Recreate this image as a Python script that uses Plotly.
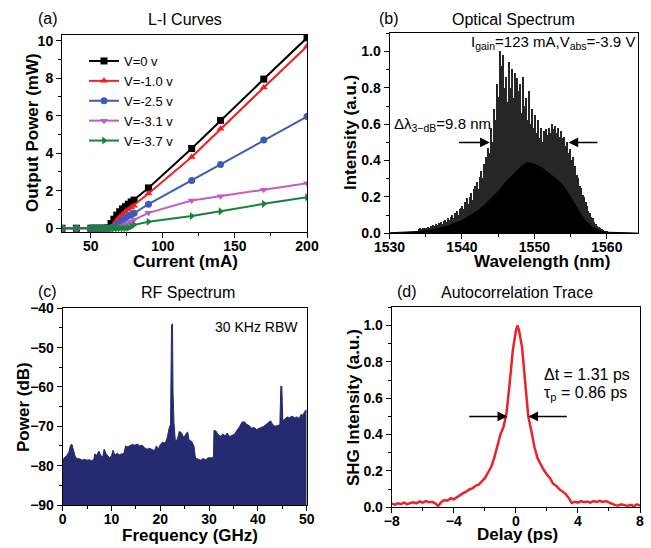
import numpy as np
import plotly.graph_objects as go

# ---------------- (a) L-I curves ----------------
li_current = [30, 40, 50, 52, 54, 56, 58, 60, 62, 64, 66, 68, 70, 72, 74, 76, 78, 80, 90, 120, 140, 170, 200]
li_v0 = [0, 0, 0, 0, 0, 0, 0, 0, 0.02, 0.25, 0.48, 0.70, 0.88, 1.03, 1.15, 1.28, 1.40, 1.50, 2.15, 4.25, 5.75, 7.95, 10.15]
li_v10 = [0, 0, 0, 0, 0, 0, 0, 0, 0, 0.05, 0.22, 0.42, 0.60, 0.75, 0.88, 1.00, 1.10, 1.20, 1.85, 3.80, 5.30, 7.50, 9.70]
li_v25 = [0, 0, 0, 0, 0, 0, 0, 0, 0, 0, 0.05, 0.15, 0.30, 0.43, 0.55, 0.65, 0.72, 0.80, 1.28, 2.55, 3.40, 4.70, 5.95]
li_v31 = [0, 0, 0, 0, 0, 0, 0, 0, 0, 0, 0, 0, 0.05, 0.12, 0.20, 0.28, 0.36, 0.45, 0.82, 1.48, 1.70, 2.05, 2.40]
li_v37 = [0, 0, 0, 0, 0, 0, 0, 0, 0, 0, 0, 0, 0, 0, 0, 0.02, 0.10, 0.18, 0.35, 0.65, 0.90, 1.30, 1.65]
li_names = ["V=0 v", "V=-1.0 v", "V=-2.5 v", "V=-3.1 v", "V=-3.7 v"]

# ---------------- (b) optical spectrum ----------------
comb_start, comb_end = 1534.0, 1560.0
comb_peaks = [
    0.02, 0.025, 0.02, 0.03, 0.025, 0.03, 0.035, 0.03, 0.04, 0.035,
    0.045, 0.04, 0.05, 0.045, 0.055, 0.06, 0.05, 0.065, 0.07, 0.06,
    0.08, 0.07, 0.09, 0.10, 0.085, 0.11, 0.12, 0.10, 0.13, 0.14,
    0.15, 0.13, 0.17, 0.19, 0.16, 0.20, 0.22, 0.18, 0.24, 0.26,
    0.28, 0.24, 0.31, 0.34, 0.30, 0.38, 0.42, 0.36, 0.47, 0.44,
    0.58, 0.50, 0.68, 0.62, 0.82, 0.75, 1.00, 0.92, 0.98, 0.80,
    0.86, 0.72, 0.94, 0.80, 0.90, 0.74, 0.88, 0.70, 0.85, 0.78,
    0.82, 0.66, 0.86, 0.70, 0.74, 0.62, 0.78, 0.60, 0.68, 0.58,
    0.65, 0.55, 0.62, 0.52, 0.58, 0.50, 0.56, 0.52, 0.57, 0.54,
    0.58, 0.55, 0.60, 0.57, 0.59, 0.55, 0.58, 0.53, 0.56, 0.52,
    0.53, 0.48, 0.50, 0.44, 0.46, 0.40, 0.42, 0.36, 0.37, 0.32,
    0.30, 0.26, 0.25, 0.21, 0.20, 0.17, 0.15, 0.12, 0.11, 0.09,
    0.08, 0.06, 0.05, 0.04, 0.035, 0.025, 0.02, 0.015, 0.012, 0.01, 0.008,
]
hump_wl = [1530, 1534, 1536, 1538, 1540, 1542, 1543, 1544, 1545, 1546, 1547, 1548, 1549,
           1550, 1551, 1552, 1553, 1554, 1555, 1556, 1557, 1558, 1559, 1560, 1562, 1564.3]
hump_val = [0.003, 0.01, 0.02, 0.04, 0.07, 0.12, 0.15, 0.19, 0.23, 0.28, 0.32, 0.36, 0.39,
            0.38, 0.36, 0.33, 0.30, 0.26, 0.20, 0.13, 0.07, 0.035, 0.015, 0.006, 0.002, 0.001]

# ---------------- (c) RF spectrum ----------------
rf_freq = [0.0, 0.3, 0.8, 1.3, 1.6, 1.9, 2.2, 2.6, 3.0, 3.5, 4.0, 4.5, 5.0, 5.5, 6.0, 6.4, 6.6, 7.0, 7.4, 7.8,
           8.2, 8.5, 8.9, 9.3, 9.6, 10.0, 10.3, 10.7, 11.2, 11.6, 12.0, 12.5, 12.9, 13.3, 13.8, 14.3, 14.8,
           15.3, 15.8, 16.3, 16.8, 17.3, 17.8, 18.3, 18.8, 19.2, 19.6, 20.0, 20.5, 21.0, 21.4, 21.8, 22.1,
           22.3, 22.5, 22.6, 22.8, 23.1, 23.5, 23.9, 24.3, 24.8, 25.3, 25.6, 25.9, 26.4, 26.9, 27.2, 27.8,
           28.3, 28.8, 29.3, 29.8, 30.5, 30.9, 31.0, 31.4, 31.8, 32.3, 32.8, 33.3, 33.7, 34.2, 34.7, 35.2,
           35.7, 36.2, 36.7, 37.2, 37.7, 38.2, 38.7, 39.2, 39.7, 40.2, 40.7, 41.2, 41.7, 42.2, 42.6, 43.0,
           43.5, 44.0, 44.5, 44.7, 44.9, 45.1, 45.5, 46.0, 46.5, 47.0, 47.5, 48.0, 48.5, 48.8, 49.2, 49.6, 50.0]
rf_power = [-78.8, -78.0, -77.5, -76.5, -74.8, -74.6, -76.0, -77.8, -78.2, -78.3, -78.6, -78.4, -78.6, -78.5,
            -78.8, -78.2, -77.0, -77.4, -76.3, -77.4, -77.8, -75.8, -77.0, -77.5, -78.0, -77.5, -76.1, -77.3,
            -76.8, -77.3, -77.0, -77.0, -75.0, -75.2, -75.0, -74.6, -74.8, -74.5, -75.0, -74.8, -75.5, -75.8,
            -75.6, -76.0, -76.2, -75.0, -75.8, -74.6, -74.0, -74.3, -73.0, -70.5, -69.5, -44.2, -44.0, -61.0,
            -69.0, -74.0, -73.2, -71.3, -71.6, -72.8, -72.0, -71.4, -73.5, -73.8, -75.0, -78.0, -78.4, -78.6,
            -78.2, -78.5, -78.0, -78.0, -77.8, -71.0, -71.2, -72.0, -72.5, -72.0, -72.4, -71.7, -72.6, -72.3,
            -72.0, -71.0, -70.2, -69.0, -68.8, -69.5, -69.8, -70.5, -70.3, -70.8, -70.5, -70.4, -70.0, -69.5,
            -69.0, -68.6, -69.5, -70.0, -69.8, -69.6, -59.8, -59.8, -68.5, -68.2, -67.6, -67.8, -67.4, -67.8,
            -67.6, -68.0, -67.0, -67.2, -66.2, -65.8]
rf_floor = -90

# ---------------- (d) autocorrelation ----------------
ac_delay = [-8.0, -7.8, -7.6, -7.4, -7.2, -7.0, -6.8, -6.6, -6.4, -6.2, -6.0, -5.8, -5.6, -5.4, -5.2, -5.0,
            -4.8, -4.6, -4.4, -4.2, -4.0, -3.8, -3.6, -3.4, -3.2, -3.0, -2.8, -2.6, -2.4, -2.2, -2.0, -1.8,
            -1.6, -1.4, -1.2, -1.0, -0.8, -0.6, -0.4, -0.2, 0.0, 0.1, 0.2, 0.4, 0.6, 0.8, 1.0, 1.2, 1.4, 1.6,
            1.8, 2.0, 2.2, 2.4, 2.6, 2.8, 3.0, 3.2, 3.4, 3.6, 3.8, 4.0, 4.2, 4.4, 4.6, 4.8, 5.0, 5.2, 5.4,
            5.6, 5.8, 6.0, 6.2, 6.4, 6.6, 6.8, 7.0, 7.2, 7.4, 7.6, 7.8, 8.0]
ac_shg = [0.020, 0.014, 0.022, 0.018, 0.026, 0.016, 0.024, 0.028, 0.022, 0.032, 0.026, 0.034, 0.028, 0.030,
          0.022, 0.008, 0.030, 0.040, 0.036, 0.050, 0.044, 0.056, 0.064, 0.078, 0.086, 0.098, 0.104, 0.118,
          0.124, 0.140, 0.160, 0.190, 0.220, 0.270, 0.330, 0.400, 0.440, 0.520, 0.680, 0.860, 0.970, 1.000,
          0.975, 0.880, 0.690, 0.500, 0.420, 0.330, 0.270, 0.235, 0.205, 0.180, 0.160, 0.130, 0.118, 0.100,
          0.088, 0.074, 0.052, 0.024, 0.030, 0.026, 0.034, 0.028, 0.032, 0.026, 0.034, 0.030, 0.036, 0.030,
          0.034, 0.026, 0.020, 0.012, 0.010, 0.016, 0.012, 0.008, 0.014, 0.006, 0.016, 0.010]

FONT = "Liberation Sans, Arial, sans-serif"
W, H = 651, 548

fig = go.Figure()

# (a)
colors_a = ["#000000", "#ee2222", "#3d5cb8", "#c35bc3", "#15843a"]
symbols_a = ["square", "triangle-up", "circle", "triangle-down", "triangle-right"]
for name, vals, c, s in zip(li_names, [li_v0, li_v10, li_v25, li_v31, li_v37], colors_a, symbols_a):
    fig.add_trace(go.Scatter(x=li_current, y=vals, mode="lines+markers", name=name,
                             line=dict(color=c, width=2), marker=dict(symbol=s, size=7, color=c),
                             xaxis="x", yaxis="y"))

# (b)
comb_wl = np.linspace(comb_start, comb_end, len(comb_peaks))
fig.add_trace(go.Bar(x=comb_wl, y=comb_peaks, width=0.15, marker=dict(color="#262626", line=dict(width=0)),
                     showlegend=False, xaxis="x2", yaxis="y2"))
fig.add_trace(go.Scatter(x=hump_wl, y=hump_val, mode="lines", fill="tozeroy", fillcolor="#000000",
                         line=dict(color="#000000", width=1), showlegend=False, xaxis="x2", yaxis="y2"))

# (c)
fig.add_trace(go.Scatter(x=[rf_freq[0], rf_freq[-1]], y=[rf_floor, rf_floor], mode="lines",
                         line=dict(width=0, color="#262a70"), showlegend=False, xaxis="x3", yaxis="y3"))
fig.add_trace(go.Scatter(x=rf_freq, y=rf_power, mode="lines", fill="tonexty", fillcolor="#262a70",
                         line=dict(color="#262a70", width=1), showlegend=False, xaxis="x3", yaxis="y3"))

# (d)
fig.add_trace(go.Scatter(x=ac_delay, y=ac_shg, mode="lines", line=dict(color="#e8232a", width=2.5),
                         showlegend=False, xaxis="x4", yaxis="y4"))


def px_dom_x(a, b):
    return [a / W, b / W]


def px_dom_y(top, bottom):
    return [1 - bottom / H, 1 - top / H]


def axis(domain, rng, dtick, tick0, minor, anchor, fmt=None, is_x=False):
    d = dict(domain=domain, range=rng, dtick=dtick, tick0=tick0, anchor=anchor, automargin=False,
             showline=True, mirror=True, linecolor="black", linewidth=1,
             ticks="outside", ticklen=5, tickwidth=1, tickcolor="black",
             minor=dict(dtick=minor, tick0=tick0, ticks="outside", ticklen=3, tickcolor="black"),
             showgrid=False, zeroline=False,
             tickfont=dict(family=FONT, size=14, color="black", weight="bold"))
    if is_x:
        d["ticklabelstandoff"] = -4
    if fmt:
        d["tickformat"] = fmt
    return d


layout = dict(
    width=W, height=H, margin=dict(l=0, r=0, t=0, b=0, pad=0, autoexpand=False),
    paper_bgcolor="white", plot_bgcolor="white", showlegend=True,
    legend=dict(x=84 / W, y=1 - 46 / H, xanchor="left", yanchor="top", bgcolor="rgba(0,0,0,0)",
                traceorder="normal", font=dict(family=FONT, size=13, color="black")),
    xaxis=axis(px_dom_x(62, 307), [30, 200], 50, 0, 25, "y", is_x=True),
    yaxis=axis(px_dom_y(35, 232), [-0.2, 10.3], 2, 0, 1, "x"),
    xaxis2=axis(px_dom_x(389.5, 638), [1530, 1564.3], 10, 1530, 5, "y2", is_x=True),
    yaxis2=axis(px_dom_y(33.3, 233.3), [0, 1.1], 0.2, 0, 0.1, "x2", ".1f"),
    xaxis3=axis(px_dom_x(62.7, 306.7), [0, 50], 10, 0, 5, "y3", is_x=True),
    yaxis3=axis(px_dom_y(308.3, 505), [-90, -40], 10, -90, 5, "x3"),
    xaxis4=axis(px_dom_x(391.7, 640), [-8, 8], 4, 0, 2, "y4", is_x=True),
    yaxis4=axis(px_dom_y(307.3, 507.3), [0, 1.1], 0.2, 0, 0.1, "x4", ".1f"),
)
fig.update_layout(**layout)

ann = []
tf = dict(family=FONT, size=16, color="black")
for txt, xp, yp in [("(a)", 48, 19), ("L-I Curves", 184.5, 20), ("(b)", 389, 19), ("Optical Spectrum", 513.5, 20),
                    ("(c)", 47, 291), ("RF Spectrum", 188, 292), ("(d)", 407, 291), ("Autocorrelation Trace", 517, 292)]:
    ann.append(dict(text=txt, x=xp / W, y=1 - yp / H, xref="paper", yref="paper", showarrow=False,
                    xanchor="center", yanchor="middle", font=tf))

# axis titles
ttf = dict(family=FONT, size=17, color="black", weight="bold")
for txt, xp, yp, ang in [("Current (mA)", 185, 261, 0), ("Output Power (mW)", 32, 133, -90),
                         ("Wavelength (nm)", 542, 261, 0), ("Intensity (a.u.)", 350, 133, -90),
                         ("Frequency (GHz)", 190, 535, 0), ("Power (dB)", 23, 407, -90),
                         ("Delay (ps)", 517, 534, 0), ("SHG Intensity (a.u.)", 353, 407, -90)]:
    ann.append(dict(text=txt, x=xp / W, y=1 - yp / H, xref="paper", yref="paper", showarrow=False,
                    xanchor="center", yanchor="middle", textangle=ang, font=ttf))

af = dict(family=FONT, size=15, color="black")
ann.append(dict(text="I<sub>gain</sub>=123 mA,V<sub>abs</sub>=-3.9 V", x=1564.2, y=1.047, xref="x2", yref="y2",
                showarrow=False, xanchor="right", yanchor="middle", font=af))
ann.append(dict(text="Δλ<sub>3−dB</sub>=9.8 nm", x=1530.3, y=0.596, xref="x2", yref="y2",
                showarrow=False, xanchor="left", yanchor="middle", font=af))
ann.append(dict(text="30 KHz RBW", x=48.6, y=-44.8, xref="x3", yref="y3",
                showarrow=False, xanchor="right", yanchor="middle",
                font=dict(family=FONT, size=14, color="black")))
df = dict(family=FONT, size=16, color="black")
ann.append(dict(text="Δt = 1.31 ps", x=1.66, y=0.73, xref="x4", yref="y4",
                showarrow=False, xanchor="left", yanchor="middle", font=df))
ann.append(dict(text="τ<sub>p</sub> = 0.86 ps", x=1.66, y=0.625, xref="x4", yref="y4",
                showarrow=False, xanchor="left", yanchor="middle", font=df))

arrow = dict(showarrow=True, arrowhead=2, arrowsize=1.3, arrowwidth=1.5, arrowcolor="black", text="")
for (hx, tx, xr, yr) in [(1543.85, 1539.4, "x2", "y2"), (1554.7, 1558.9, "x2", "y2"),
                         (-0.55, -3.1, "x4", "y4"), (0.8, 3.38, "x4", "y4")]:
    a = dict(arrow)
    a.update(x=hx, y=0.5, ax=tx, ay=0.5, xref=xr, yref=yr, axref=xr, ayref=yr)
    ann.append(a)

fig.update_layout(annotations=ann, bargap=0)
fig.write_html("out.html", config={"displayModeBar": False},
               post_script="document.body.style.margin='0px';document.body.style.overflow='hidden';")
